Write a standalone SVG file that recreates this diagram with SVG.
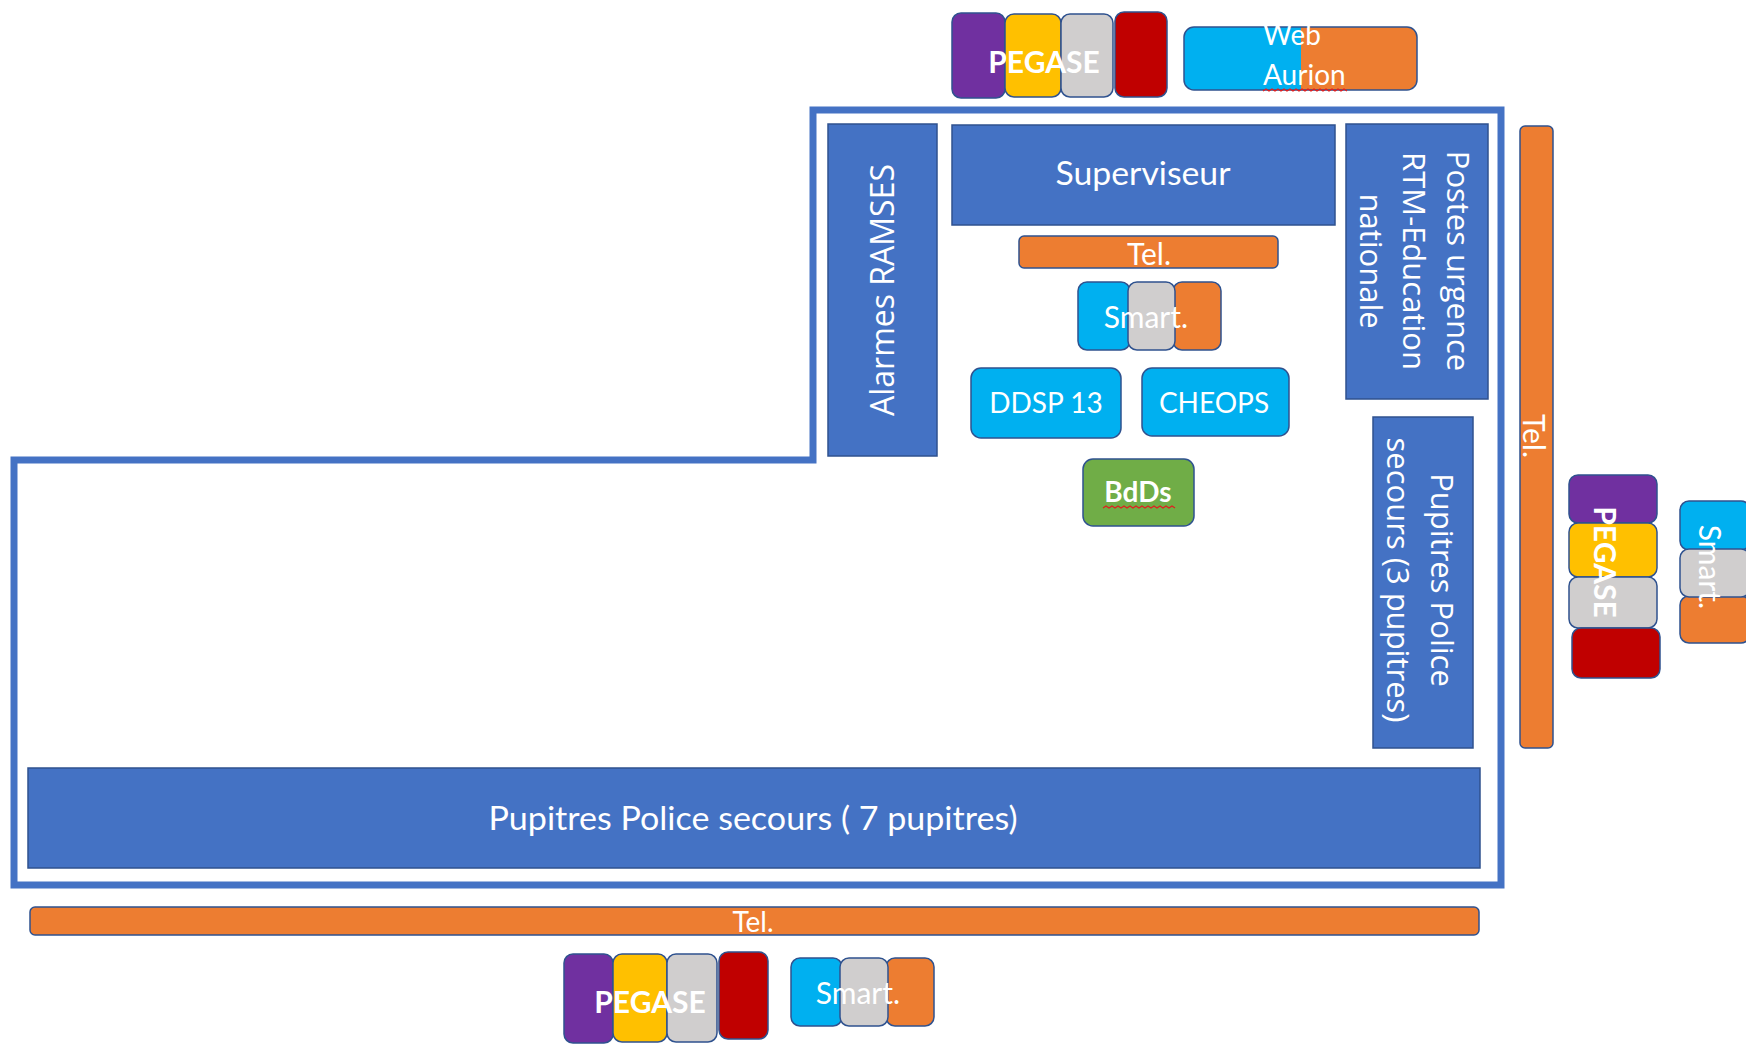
<svg xmlns="http://www.w3.org/2000/svg" width="1746" height="1048" viewBox="0 0 1746 1048">
<style>
.sh{stroke:#2F528F;stroke-width:1.5}
.b{fill:#4472C4}
.o{fill:#ED7D31}
.c{fill:#00B0F0}
.p{fill:#7030A0}
.y{fill:#FFC000}
.g{fill:#D0CECE}
.r{fill:#C00000}
.gr{fill:#70AD47}
.tl{fill:#fff;font-family:Lato,"Liberation Sans",sans-serif;text-anchor:middle}
.ts{fill:#fff;font-family:"Open Sans","Noto Sans",sans-serif;text-anchor:middle}
.bold{font-weight:700}
.sq{fill:none;stroke:#E02020;stroke-width:1.3}
</style>
<rect width="1746" height="1048" fill="#fff"/>
<g id="room-outline">
<path d="M813 110 L1501 110 L1501 885 L14 885 L14 460 L813 460 Z" fill="none" stroke="#4472C4" stroke-width="7"/>
</g>
<g id="connectors"/>
<g id="pegase-top">
<rect class="p sh" x="952" y="13" width="53" height="85" rx="9"/>
<rect class="y sh" x="1005" y="14" width="56" height="83" rx="9"/>
<rect class="g sh" x="1061" y="14" width="52" height="83" rx="9"/>
<rect class="r sh" x="1115" y="12" width="52" height="85" rx="9"/>
<text class="tl bold" x="1044" y="73" font-size="30">PEGASE</text>
</g>
<g id="web-aurion">
<rect class="c" x="1184" y="27" width="233" height="63" rx="10"/>
<path class="o" d="M1301 27 H1407 A10 10 0 0 1 1417 37 V80 A10 10 0 0 1 1407 90 H1301 Z"/>
<rect x="1184" y="27" width="233" height="63" rx="10" fill="none" class="sh"/>
<text class="tl" x="1263" y="45" font-size="28" style="text-anchor:start">Web</text>
<text class="tl" x="1263" y="85" font-size="28" style="text-anchor:start">Aurion</text>
<path class="sq" d="M1263 91 l3 -2 l3 2 l3 -2 l3 2 l3 -2 l3 2 l3 -2 l3 2 l3 -2 l3 2 l3 -2 l3 2 l3 -2 l3 2 l3 -2 l3 2 l3 -2 l3 2 l3 -2 l3 2 l3 -2 l3 2 l3 -2 l3 2 l3 -2 l3 2 l3 -2 l3 2"/>
</g>
<g id="alarmes-ramses">
<rect class="b sh" x="828" y="124" width="109" height="332"/>
<text class="ts" transform="translate(894,290) rotate(-90)" font-size="32">Alarmes RAMSES</text>
</g>
<g id="superviseur">
<rect class="b sh" x="952" y="125" width="383" height="100"/>
<text class="tl" x="1143" y="185" font-size="32" textLength="175" lengthAdjust="spacingAndGlyphs">Superviseur</text>
</g>
<g id="tel-top">
<rect class="o sh" x="1019" y="236" width="259" height="32" rx="5"/>
<text class="tl" x="1149" y="265" font-size="30">Tel.</text>
</g>
<g id="smart-top">
<rect class="c sh" x="1078" y="282" width="52" height="68" rx="9"/>
<rect class="o sh" x="1173" y="282" width="48" height="68" rx="9"/>
<rect class="g sh" x="1128" y="282" width="47" height="68" rx="9"/>
<text class="tl" x="1146" y="328" font-size="30">Smart.</text>
</g>
<g id="ddsp13">
<rect class="c sh" x="971" y="368" width="150" height="70" rx="10"/>
<text class="tl" x="1046" y="413" font-size="28">DDSP 13</text>
</g>
<g id="cheops">
<rect class="c sh" x="1142" y="368" width="147" height="68" rx="10"/>
<text class="tl" x="1214" y="413" font-size="28">CHEOPS</text>
</g>
<g id="bdds">
<rect class="gr sh" x="1083" y="459" width="111" height="67" rx="10"/>
<text class="tl bold" x="1138" y="502" font-size="28">BdDs</text>
<path class="sq" d="M1103 508 l3 -2 l3 2 l3 -2 l3 2 l3 -2 l3 2 l3 -2 l3 2 l3 -2 l3 2 l3 -2 l3 2 l3 -2 l3 2 l3 -2 l3 2 l3 -2 l3 2 l3 -2 l3 2 l3 -2 l3 2 l3 -2 l3 2"/>
</g>
<g id="postes-urgence">
<rect class="b sh" x="1346" y="124" width="142" height="275"/>
<g transform="translate(1447,261) rotate(90)">
<text class="ts" y="0" font-size="31">Postes urgence</text>
<text class="ts" y="44" font-size="31">RTM-Education</text>
<text class="ts" y="87" font-size="31">nationale</text>
</g>
</g>
<g id="pupitres-3">
<rect class="b sh" x="1373" y="417" width="100" height="331"/>
<g transform="translate(1431,580) rotate(90)">
<text class="ts" y="0" font-size="31">Pupitres Police</text>
<text class="ts" y="44" font-size="31">secours (3 pupitres)</text>
</g>
</g>
<g id="tel-right">
<rect class="o sh" x="1520" y="126" width="33" height="622" rx="5"/>
<text class="tl" transform="translate(1523,436) rotate(90)" font-size="30">Tel.</text>
</g>
<g id="pegase-right">
<rect class="p sh" x="1569" y="475" width="88" height="48" rx="9"/>
<rect class="y sh" x="1569" y="523" width="88" height="54" rx="9"/>
<rect class="g sh" x="1569" y="577" width="88" height="51" rx="9"/>
<rect class="r sh" x="1572" y="628" width="88" height="50" rx="9"/>
<text class="tl bold" transform="translate(1594,562) rotate(90)" font-size="30">PEGASE</text>
</g>
<g id="smart-right">
<rect class="c sh" x="1680" y="501" width="70" height="49" rx="9"/>
<rect class="o sh" x="1680" y="596" width="70" height="47" rx="9"/>
<rect class="g sh" x="1680" y="549" width="70" height="48" rx="9"/>
<text class="tl" transform="translate(1699,567) rotate(90)" font-size="30">Smart.</text>
</g>
<g id="pupitres-7">
<rect class="b sh" x="28" y="768" width="1452" height="100"/>
<text class="tl" x="753" y="830" font-size="32" textLength="529" lengthAdjust="spacingAndGlyphs">Pupitres Police secours ( 7 pupitres)</text>
</g>
<g id="tel-bottom">
<rect class="o sh" x="30" y="907" width="1449" height="28" rx="5"/>
<text class="tl" x="753" y="932" font-size="28">Tel.</text>
</g>
<g id="pegase-bottom">
<rect class="p sh" x="564" y="954" width="49" height="89" rx="9"/>
<rect class="y sh" x="613" y="954" width="54" height="88" rx="9"/>
<rect class="g sh" x="667" y="954" width="50" height="88" rx="9"/>
<rect class="r sh" x="719" y="952" width="49" height="87" rx="9"/>
<text class="tl bold" x="650" y="1013" font-size="30">PEGASE</text>
</g>
<g id="smart-bottom">
<rect class="c sh" x="791" y="958" width="51" height="68" rx="9"/>
<rect class="o sh" x="886" y="958" width="48" height="68" rx="9"/>
<rect class="g sh" x="840" y="958" width="48" height="68" rx="9"/>
<text class="tl" x="858" y="1004" font-size="30">Smart.</text>
</g>
</svg>
